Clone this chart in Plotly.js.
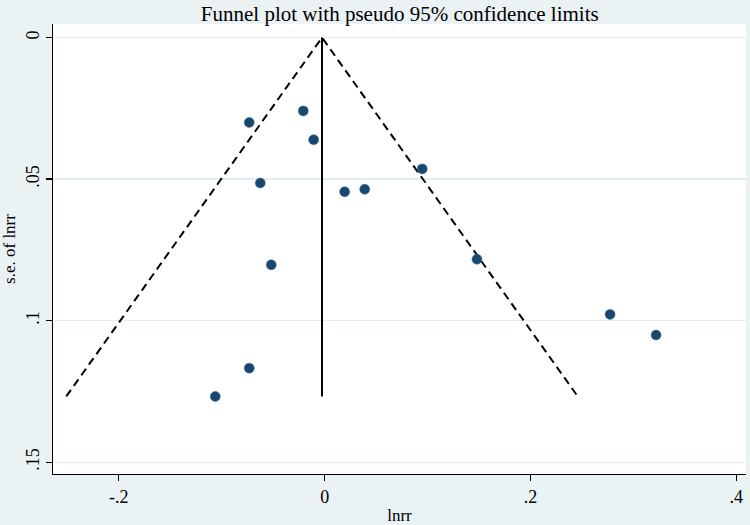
<!DOCTYPE html>
<html>
<head>
<meta charset="utf-8">
<script src="https://cdn.plot.ly/plotly-3.0.1.min.js"></script>
<style>html,body{margin:0;padding:0;background:#EAF2F3;}</style>
</head>
<body>
<div id="chart" style="width:750px;height:525px;"></div>
<script>
// Study effect sizes (ln risk ratio) and their standard errors
const lnrr = [-0.0733, -0.0208, -0.0107, -0.0626, 0.0194, 0.0389, 0.0948, -0.0519, 0.1480, 0.2773, 0.3220, -0.0733, -0.1063];
const seLnrr = [0.0300, 0.0259, 0.0361, 0.0514, 0.0545, 0.0536, 0.0464, 0.0803, 0.0783, 0.0978, 0.1051, 0.1168, 0.1268];
// Pooled (fixed-effect) estimate
const pooled = -0.0026;
const z95 = 1.96;
const xTickVals = [-0.2, 0, 0.2, 0.4];
const xTickText = ["-.2", "0", ".2", ".4"];
const yTickVals = [0, 0.05, 0.1, 0.15];
const yTickText = ["0", ".05", ".1", ".15"];

const seMax = Math.max(...seLnrr);
const font = "Liberation Serif, Times New Roman, serif";

const funnel = {
  x: [pooled - z95 * seMax, pooled, pooled + z95 * seMax],
  y: [seMax, 0, seMax],
  mode: "lines", type: "scatter",
  line: {color: "#000", width: 2, dash: "8px,5px"},
  hoverinfo: "skip", showlegend: false
};
const vline = {
  x: [pooled, pooled], y: [0, seMax],
  mode: "lines", type: "scatter",
  line: {color: "#000", width: 2},
  hoverinfo: "skip", showlegend: false
};
const pts = {
  x: lnrr, y: seLnrr, mode: "markers", type: "scatter",
  marker: {color: "#1a476f", size: 10, line: {color: "#3a6a90", width: 0.5}},
  showlegend: false
};

const layout = {
  width: 750, height: 525,
  paper_bgcolor: "#EAF2F3", plot_bgcolor: "#FFFFFF",
  margin: {l: 53, r: 4, t: 24, b: 51},
  font: {family: font, color: "#000", size: 17},
  title: {text: "Funnel plot with pseudo 95% confidence limits", font: {family: font, size: 21, color: "#000"},
          x: 0.533, xanchor: "center", y: 0.988, yanchor: "top"},
  xaxis: {
    range: [-0.2640, 0.4094], tickvals: xTickVals, ticktext: xTickText,
    showgrid: false, zeroline: false, showline: true, linecolor: "#000", linewidth: 1.2,
    ticks: "outside", ticklen: 6, tickcolor: "#000", tickwidth: 1.2,
    tickfont: {family: font, size: 18},
    title: {text: "lnrr", font: {family: font, size: 17}, standoff: 5}
  },
  yaxis: {
    range: [0.1542, -0.0048], tickvals: yTickVals, ticktext: yTickText,
    showgrid: true, gridcolor: "#E2EDEF", gridwidth: 1.2, zeroline: false,
    showline: true, linecolor: "#000", linewidth: 1.2,
    ticks: "outside", ticklen: 6, tickcolor: "#000", tickwidth: 1.2,
    tickangle: -90, tickfont: {family: font, size: 18},
    title: {text: "s.e. of lnrr", font: {family: font, size: 17}, standoff: 3}
  }
};

Plotly.newPlot("chart", [funnel, vline, pts], layout, {displayModeBar: false, staticPlot: true});
</script>
</body>
</html>
